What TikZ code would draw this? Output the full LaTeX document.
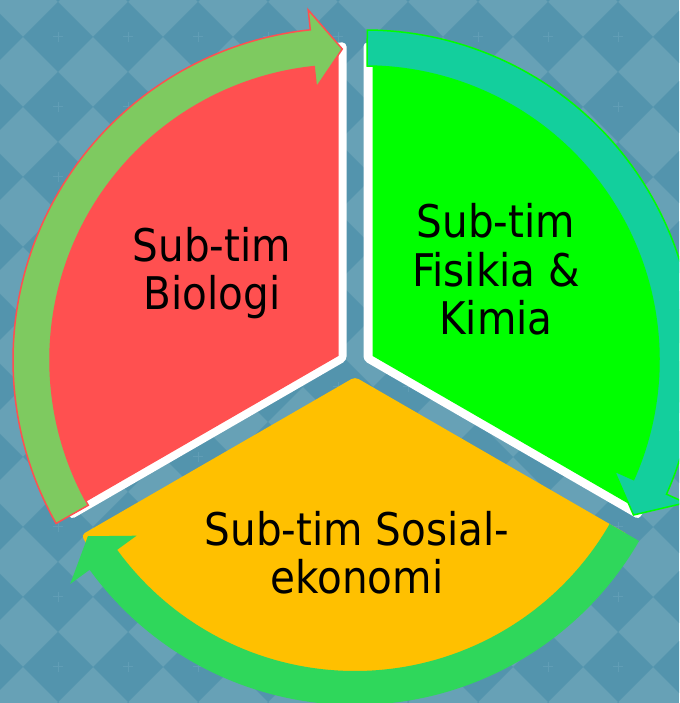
\documentclass[tikz,border=0pt]{standalone}
\usepackage{fontspec}
\setmainfont{DejaVu Sans}[FakeStretch=0.9]
\definecolor{bglight}{RGB}{103,161,182}
\definecolor{bgdark}{RGB}{83,148,173}
\definecolor{bgplus}{RGB}{96,157,181}
\definecolor{redfill}{RGB}{255,80,80}
\definecolor{redarrow}{RGB}{126,202,96}
\definecolor{greenfill}{RGB}{0,255,0}
\definecolor{tealarrow}{RGB}{19,207,157}
\definecolor{yellowfill}{RGB}{255,192,0}
\definecolor{yellowarrow}{RGB}{47,215,91}
\tikzset{
  whitesector/.style={fill=white, rounded corners=4pt},
  sectorfill/.style={fill=#1},
  ringarrow/.style={fill=#1, line width=1.5pt, line join=miter},
  lbl/.style={font=\fontsize{45}{48.5}\selectfont, align=center, inner sep=0pt, text=black, anchor=base},
  plusmark/.style={draw=bgplus, line width=1pt}
}
\begin{document}
\begin{tikzpicture}[x=1pt,y=1pt]
\useasboundingbox (0,0) rectangle (679,703);
\begin{scope}
\clip (0,0) rectangle (679,703);
% background
\fill[bglight] (0,0) rectangle (679,703);
\foreach \i in {-1,...,9}{
  \foreach \j in {-1,...,10}{
    \pgfmathsetmacro\cx{58+70*\i}
    \pgfmathsetmacro\cy{666-70*\j}
    \fill[bgdark] (\cx-35,\cy) -- (\cx,\cy+35) -- (\cx+35,\cy) -- (\cx,\cy-35) -- cycle;
    \draw[plusmark] (\cx-5,\cy) -- (\cx+5,\cy) (\cx,\cy-5) -- (\cx,\cy+5);
  }
}
% sectors
\coordinate (redW) at (346.5,342.5);
\coordinate (redF) at (338.5,347.1);
\coordinate (greenW) at (363.5,342.5);
\coordinate (greenF) at (372.5,347.1);
\coordinate (yelC) at (355,326);
\fill[whitesector] (redW) -- +(90:318pt) arc[start angle=90,end angle=210,radius=318pt] -- cycle;
\fill[sectorfill=redfill] (redF) -- +(90:310pt) arc[start angle=90,end angle=210,radius=310pt] -- cycle;
\fill[whitesector] (greenW) -- +(90:318pt) arc[start angle=90,end angle=-30,radius=318pt] -- cycle;
\fill[sectorfill=greenfill] (greenF) -- +(90:310pt) arc[start angle=90,end angle=-30,radius=310pt] -- cycle;
\fill[sectorfill=yellowfill, rounded corners=4pt] (yelC) -- +(210:316pt) arc[start angle=210,end angle=330,radius=316pt] -- cycle;
% arrows
\begin{scope}[shift={(345,343)}]
\filldraw[ringarrow=redarrow, draw=redfill] (209.5:332pt) arc[start angle=209.5,end angle=96,radius=332pt] -- (96:352pt) -- (90.5:311pt) -- (96:274pt) -- (96:295pt) arc[start angle=96,end angle=209.5,radius=295pt] -- cycle;
\end{scope}
\begin{scope}[shift={(365,343)}]
\filldraw[ringarrow=tealarrow, draw=greenfill] (89.6:330pt) arc[start angle=89.6,end angle=-24,radius=330pt] -- (-24:351pt) -- (-30:310pt) -- (-24:273pt) -- (-24:294pt) arc[start angle=-24,end angle=89.6,radius=294pt] -- cycle;
\end{scope}
\begin{scope}[shift={(355,326)}]
\fill[ringarrow=yellowarrow] (-30:328pt) arc[start angle=-30,end angle=-144,radius=328pt] -- (-144:352pt) -- (-149.2:311pt) -- (-144:270pt) -- (-144:294pt) arc[start angle=-144,end angle=-30,radius=294pt] -- cycle;
\end{scope}
% labels (base anchor = baseline of last line)
\node[lbl] (tbio) at (212,393) {Sub-tim\\Biologi};
\node[lbl] (tfis) at (496,368) {Sub-tim\\Fisikia \&\\Kimia};
\node[lbl] (tsos) at (357,109) {Sub-tim Sosial-\\ekonomi};
\end{scope}
\end{tikzpicture}
\end{document}
